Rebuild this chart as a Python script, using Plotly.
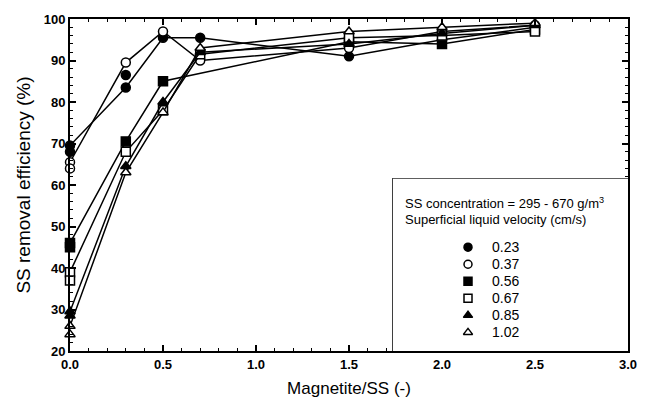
import plotly.graph_objects as go

# ---- data ----
velocities = ["0.23", "0.37", "0.56", "0.67", "0.85", "1.02"]
symbols = ["circle", "circle", "square", "square", "triangle-up", "triangle-up"]
filled = [True, False, True, False, True, False]

x_023 = [0.0, 0.3, 0.5, 0.7, 1.5, 2.0, 2.5]
y_023 = [69.5, 83.5, 95.5, 95.5, 91.0, 95.0, 98.0]
x_037 = [0.0, 0.3, 0.5, 0.7, 1.5, 2.0, 2.5]
y_037 = [65.5, 89.5, 97.0, 90.0, 93.0, 97.0, 98.5]
x_056 = [0.0, 0.3, 0.5, 1.5, 2.0, 2.5]
y_056 = [46.0, 70.5, 85.0, 94.5, 94.0, 97.5]
x_067 = [0.0, 0.3, 0.5, 0.7, 1.5, 2.0, 2.5]
y_067 = [39.0, 68.0, 78.0, 91.5, 95.5, 96.0, 97.0]
x_085 = [0.0, 0.3, 0.5, 0.7, 1.5, 2.0, 2.5]
y_085 = [29.5, 64.5, 80.0, 92.0, 94.0, 96.5, 98.5]
x_102 = [0.0, 0.3, 0.5, 0.7, 1.5, 2.0, 2.5]
y_102 = [26.0, 63.0, 77.5, 93.0, 97.0, 98.0, 99.0]

# replicate measurements (markers only)
rx_023 = [0.0, 0.3]
ry_023 = [68.0, 86.5]
rx_037 = [0.0]
ry_037 = [64.0]
rx_056 = [0.0]
ry_056 = [45.0]
rx_067 = [0.0]
ry_067 = [37.0]
rx_085 = [0.0]
ry_085 = [28.5]
rx_102 = [0.0]
ry_102 = [24.0]

header1 = "SS concentration = 295 - 670 g/m<sup>3</sup>"
header2 = "Superficial liquid velocity (cm/s)"

series_x = [x_023, x_037, x_056, x_067, x_085, x_102]
series_y = [y_023, y_037, y_056, y_067, y_085, y_102]
rep_x = [rx_023, rx_037, rx_056, rx_067, rx_085, rx_102]
rep_y = [ry_023, ry_037, ry_056, ry_067, ry_085, ry_102]

FONT = "Liberation Sans, Arial, sans-serif"

fig = go.Figure()

def mk(i, size):
    return dict(symbol=symbols[i], size=size,
                color="black" if filled[i] else "white",
                line=dict(color="black", width=1.5))

for i in range(len(velocities)):
    fig.add_trace(go.Scatter(
        x=series_x[i], y=series_y[i], mode="lines+markers",
        line=dict(color="black", width=1.5), marker=mk(i, 9),
        showlegend=False, cliponaxis=False))
for i in range(len(velocities)):
    fig.add_trace(go.Scatter(
        x=rep_x[i], y=rep_y[i], mode="markers", marker=mk(i, 9),
        showlegend=False, cliponaxis=False))

# ---- manual legend in its own hidden axes ----
# plot area in px: x 70..628, y 12..351
PL, PR, PT, PB = 70, 628, 12, 351
box_l, box_t = 393, 175
W, H = PR - PL, PB - PT
bx0 = (box_l - PL) / W
by1 = (PB - box_t) / H
bw = PR - box_l
bh = PB - box_t

fig.add_shape(type="rect", xref="paper", yref="paper", x0=bx0, x1=1, y0=0, y1=by1,
              line=dict(color="black", width=1.5), fillcolor="white", layer="below")

leg_y = [bh - (245 - box_t) - k * 17.4 for k in range(len(velocities))]
for i in range(len(velocities)):
    fig.add_trace(go.Scatter(x=[75], y=[leg_y[i]], xaxis="x2", yaxis="y2",
                             mode="markers", marker=mk(i, 8), showlegend=False))
    fig.add_annotation(x=97, y=leg_y[i], xref="x2", yref="y2", text=velocities[i],
                       showarrow=False, xanchor="left", yanchor="middle",
                       font=dict(family=FONT, size=14, color="black"))
fig.add_annotation(x=10, y=bh - (200 - box_t), xref="x2", yref="y2", text=header1,
                   showarrow=False, xanchor="left", yanchor="middle",
                   font=dict(family=FONT, size=13, color="black"))
fig.add_annotation(x=10, y=bh - (217 - box_t), xref="x2", yref="y2", text=header2,
                   showarrow=False, xanchor="left", yanchor="middle",
                   font=dict(family=FONT, size=13, color="black"))

axis_common = dict(showline=True, linecolor="black", linewidth=2, mirror="ticks",
                   ticks="inside", tickcolor="black", tickwidth=1.5, ticklen=6,
                   showgrid=False, zeroline=False,
                   tickfont=dict(family=FONT, size=13, color="black", weight="bold"))

fig.update_layout(
    width=649, height=409,
    margin=dict(l=PL, r=649 - PR, t=PT, b=409 - PB),
    paper_bgcolor="white", plot_bgcolor="white",
    xaxis=dict(range=[0, 3], tickvals=[0, 0.5, 1, 1.5, 2, 2.5, 3], tickformat=".1f",
               minor=dict(dtick=0.1, ticks="inside", ticklen=3, tickcolor="black", tickwidth=1),
               title=dict(text="Magnetite/SS (-)", standoff=12,
                          font=dict(family=FONT, size=17, color="black")),
               **axis_common),
    yaxis=dict(range=[20, 100], dtick=10,
               minor=dict(dtick=2, ticks="inside", ticklen=3, tickcolor="black", tickwidth=1),
               title=dict(text="SS removal efficiency (%)", standoff=8,
                          font=dict(family=FONT, size=19, color="black")),
               **axis_common),
    xaxis2=dict(domain=[bx0, 1], range=[0, bw], visible=False, anchor="y2", fixedrange=True),
    yaxis2=dict(domain=[0, by1], range=[0, bh], visible=False, anchor="x2", fixedrange=True),
    font=dict(family=FONT, color="black"),
)

fig.write_html("out.html")
